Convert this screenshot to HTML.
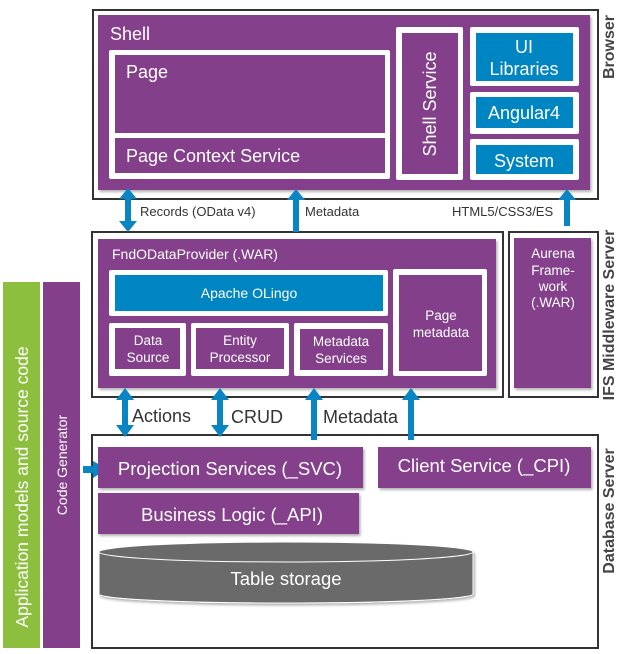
<!DOCTYPE html>
<html><head><meta charset="utf-8"><style>
html,body{margin:0;padding:0;background:#fff;width:623px;height:654px;overflow:hidden}
svg text{font-family:"Liberation Sans",sans-serif}
</style></head><body>
<svg width="623" height="654" viewBox="0 0 623 654" xmlns="http://www.w3.org/2000/svg">
<defs>
<filter id="sh" x="-5%" y="-5%" width="115%" height="120%"><feDropShadow dx="1.5" dy="2" stdDeviation="1.2" flood-color="#000" flood-opacity="0.3"/></filter>
</defs>
<g fill="none" stroke="#333" stroke-width="2">
<rect x="93" y="10" width="505" height="189"/>
<rect x="92" y="232" width="411" height="165"/>
<rect x="509" y="232" width="89" height="165"/>
<rect x="92" y="435" width="506" height="213"/>
</g>
<!-- Browser -->
<rect x="98" y="15" width="492" height="175" fill="#843f8b" filter="url(#sh)"/>
<text x="110" y="40" fill="#fff" font-size="18">Shell</text>
<rect x="109" y="50" width="281" height="129" rx="2" fill="#fff"/>
<rect x="115" y="55" width="270" height="78" fill="#843f8b"/>
<rect x="115" y="138" width="270" height="35" fill="#843f8b"/>
<text x="126" y="78" fill="#fff" font-size="18">Page</text>
<text x="126" y="162" fill="#fff" font-size="18">Page Context Service</text>
<rect x="396" y="27" width="67" height="153" rx="2" fill="#fff"/>
<rect x="402" y="33" width="56" height="141" fill="#843f8b"/>
<text transform="translate(436,104) rotate(-90)" text-anchor="middle" fill="#fff" font-size="18">Shell Service</text>
<rect x="470" y="27" width="109" height="59" rx="2" fill="#fff"/>
<rect x="476" y="33" width="97" height="48" fill="#0085c3"/>
<text x="524" y="53" text-anchor="middle" fill="#fff" font-size="18">UI</text>
<text x="524" y="75" text-anchor="middle" fill="#fff" font-size="18">Libraries</text>
<rect x="470" y="92" width="109" height="42" rx="2" fill="#fff"/>
<rect x="476" y="97" width="97" height="31" fill="#0085c3"/>
<text x="524" y="119" text-anchor="middle" fill="#fff" font-size="18">Angular4</text>
<rect x="470" y="139" width="109" height="41" rx="2" fill="#fff"/>
<rect x="476" y="145" width="97" height="29" fill="#0085c3"/>
<text x="524" y="167" text-anchor="middle" fill="#fff" font-size="18">System</text>
<!-- arrows browser -->
<g fill="#0a85c4">
<rect x="125" y="196" width="6" height="28"/>
<polygon points="119,199 137,199 128,188"/>
<polygon points="119,221 137,221 128,232"/>
<rect x="293" y="198" width="6" height="34"/>
<polygon points="287,200 305,200 296,189"/>
<rect x="564" y="198" width="6" height="28"/>
<polygon points="558,200 576,200 567,189"/>
</g>
<g fill="#333" font-size="13">
<text x="140" y="216">Records (OData v4)</text>
<text x="305" y="216">Metadata</text>
<text x="452" y="216">HTML5/CSS3/ES</text>
</g>
<!-- Middleware -->
<rect x="98" y="239" width="398" height="149" fill="#843f8b" filter="url(#sh)"/>
<text x="112" y="259" fill="#fff" font-size="14">FndODataProvider (.WAR)</text>
<rect x="109" y="270" width="279" height="46" rx="2" fill="#fff"/>
<rect x="115" y="275" width="268" height="36" fill="#0085c3"/>
<text x="249" y="298" text-anchor="middle" fill="#fff" font-size="14">Apache OLingo</text>
<rect x="109" y="323" width="77" height="53" rx="2" fill="#fff"/>
<rect x="115" y="328" width="65" height="41" fill="#843f8b"/>
<text x="148" y="345" text-anchor="middle" fill="#fff" font-size="13.5">Data</text>
<text x="148" y="362" text-anchor="middle" fill="#fff" font-size="13.5">Source</text>
<rect x="191" y="323" width="98" height="53" rx="2" fill="#fff"/>
<rect x="196" y="328" width="88" height="41" fill="#843f8b"/>
<text x="240" y="345" text-anchor="middle" fill="#fff" font-size="13.5">Entity</text>
<text x="240" y="362" text-anchor="middle" fill="#fff" font-size="13.5">Processor</text>
<rect x="294" y="323" width="94" height="53" rx="2" fill="#fff"/>
<rect x="300" y="329" width="83" height="41" fill="#843f8b"/>
<text x="341" y="346" text-anchor="middle" fill="#fff" font-size="13.5">Metadata</text>
<text x="341" y="363" text-anchor="middle" fill="#fff" font-size="13.5">Services</text>
<rect x="393" y="269" width="94" height="107" rx="2" fill="#fff"/>
<rect x="399" y="275" width="83" height="96" fill="#843f8b"/>
<text x="441" y="320" text-anchor="middle" fill="#fff" font-size="13.5">Page</text>
<text x="441" y="337" text-anchor="middle" fill="#fff" font-size="13.5">metadata</text>
<rect x="514" y="238" width="77" height="150" fill="#843f8b" filter="url(#sh)"/>
<g fill="#fff" font-size="13.5" text-anchor="middle">
<text x="553" y="258">Aurena</text><text x="553" y="275">Frame-</text><text x="553" y="291">work</text><text x="553" y="307">(.WAR)</text>
</g>
<!-- arrows middle -->
<g fill="#0a85c4">
<rect x="122" y="396" width="6" height="32"/>
<polygon points="116,400 134,400 125,388"/>
<polygon points="116,425 134,425 125,437"/>
<rect x="217" y="396" width="6" height="32"/>
<polygon points="211,400 229,400 220,388"/>
<polygon points="211,425 229,425 220,437"/>
<rect x="311" y="396" width="6" height="44"/>
<polygon points="305,400 323,400 314,388"/>
<rect x="408" y="396" width="6" height="44"/>
<polygon points="402,400 420,400 411,388"/>
<rect x="83" y="466" width="12" height="7"/>
<polygon points="93,461 93,478 107,469"/>
</g>
<g fill="#333" font-size="18">
<text x="132" y="422">Actions</text>
<text x="231" y="423">CRUD</text>
<text x="323" y="423">Metadata</text>
</g>
<!-- DB -->
<rect x="98" y="447" width="265" height="41" fill="#843f8b" filter="url(#sh)"/>
<text x="230" y="475" text-anchor="middle" fill="#fff" font-size="18.5">Projection Services (_SVC)</text>
<rect x="378" y="447" width="213" height="41" fill="#843f8b" filter="url(#sh)"/>
<text x="484" y="472" text-anchor="middle" fill="#fff" font-size="18.5">Client Service (_CPI)</text>
<rect x="98" y="493" width="261" height="41" fill="#843f8b" filter="url(#sh)"/>
<text x="232" y="521" text-anchor="middle" fill="#fff" font-size="18.5">Business Logic (_API)</text>
<g filter="url(#sh)">
<path d="M99,552 L99,594 A187,9 0 0 0 473,594 L473,552 Z" fill="#6b6b6b" stroke="#fff" stroke-width="1"/>
<ellipse cx="286" cy="552" rx="187" ry="10" fill="#6b6b6b" stroke="#fff" stroke-width="1"/>
</g>
<text x="286" y="585" text-anchor="middle" fill="#fff" font-size="18.5">Table storage</text>
<!-- left bars -->
<rect x="3" y="282" width="37" height="366" fill="#8dbf3f"/>
<rect x="43" y="282" width="37" height="366" fill="#843f8b"/>
<text transform="translate(28,487) rotate(-90)" text-anchor="middle" fill="#fff" font-size="17.5">Application models and source code</text>
<text transform="translate(67,465) rotate(-90)" text-anchor="middle" fill="#fff" font-size="14">Code Generator</text>
<!-- right labels -->
<g fill="#444" font-size="16" font-weight="bold" text-anchor="middle">
<text transform="translate(614,47) rotate(-90)">Browser</text>
<text transform="translate(614,315) rotate(-90)">IFS Middleware Server</text>
<text transform="translate(614,511) rotate(-90)">Database Server</text>
</g>
</svg>
</body></html>
